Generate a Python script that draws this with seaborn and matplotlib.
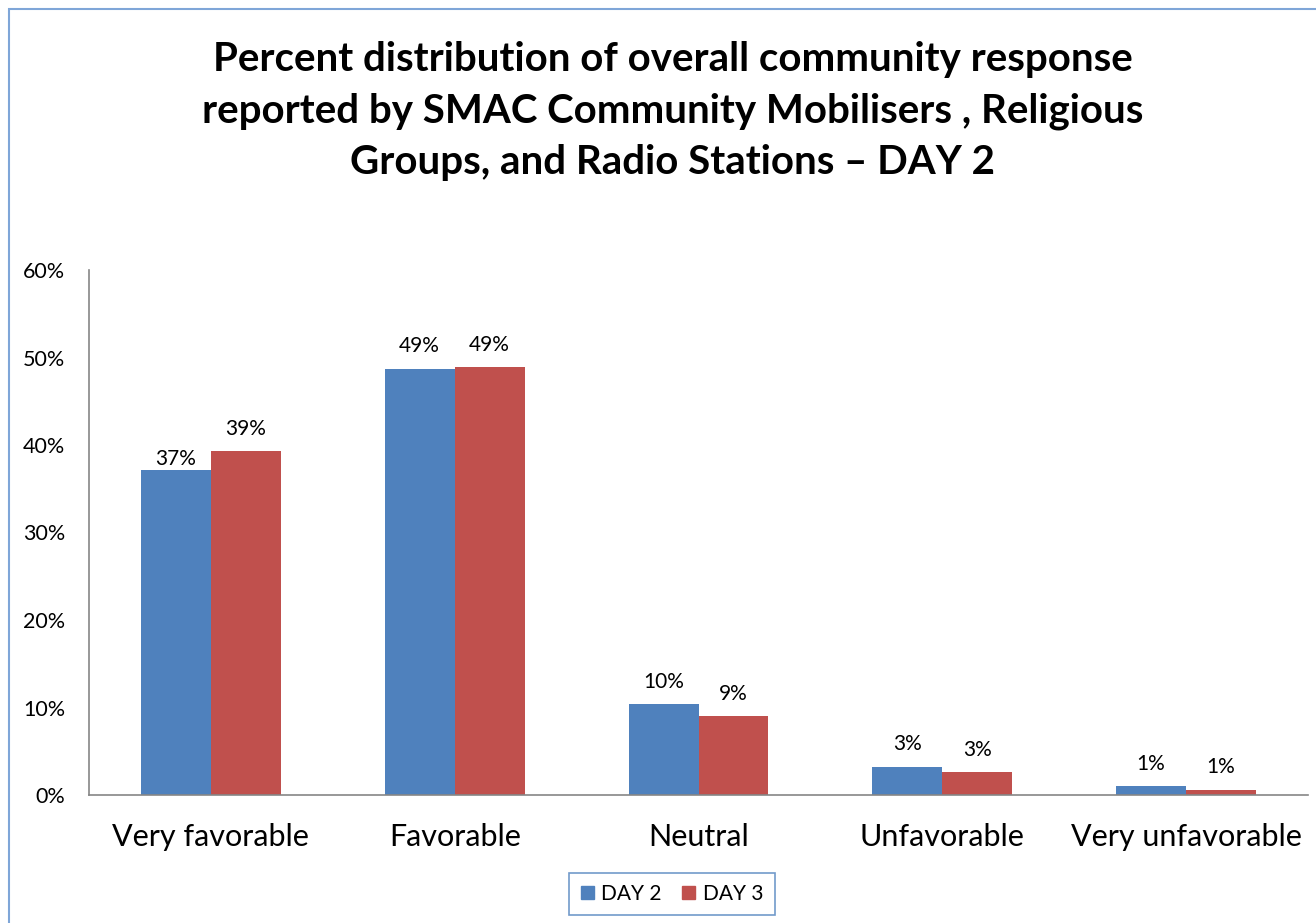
import matplotlib
matplotlib.use("Agg")
import matplotlib.pyplot as plt
import matplotlib.patches as mpatches
import seaborn as sns
import pandas as pd

categories = ["Very favorable", "Favorable", "Neutral", "Unfavorable", "Very unfavorable"]
series_names = ["DAY 2", "DAY 3"]
day2 = [37.1, 48.7, 10.4, 3.2, 1.0]
day3 = [39.3, 48.9, 9.0, 2.6, 0.6]
day2_labels = ["37%", "49%", "10%", "3%", "1%"]
day3_labels = ["39%", "49%", "9%", "3%", "1%"]
y_ticks = [0, 10, 20, 30, 40, 50, 60]
y_tick_labels = ["0%", "10%", "20%", "30%", "40%", "50%", "60%"]
title = ("Percent distribution of overall community response\n"
         "reported by SMAC Community Mobilisers , Religious\n"
         "Groups, and Radio Stations \u2013 DAY 2")

colors = ["#4F81BD", "#C0504D"]

df = pd.DataFrame({
    "category": categories * 2,
    "series": [series_names[0]] * len(categories) + [series_names[1]] * len(categories),
    "value": day2 + day3,
})

sns.set_theme(style="white")
plt.rcParams["font.family"] = ["Lato", "DejaVu Sans"]
plt.rcParams["text.color"] = "black"
plt.rcParams["xtick.color"] = "black"
plt.rcParams["ytick.color"] = "black"

fig = plt.figure(figsize=(13.16, 9.23), dpi=100)
ax = fig.add_axes([89 / 1316, 1 - 795 / 923, (1308 - 89) / 1316, (795 - 270) / 923])

sns.barplot(data=df, x="category", y="value", hue="series", order=categories,
            hue_order=series_names, palette=colors, width=0.574, gap=0,
            saturation=1, ax=ax, legend=False, linewidth=0)

ax.set_ylim(0, 60)
ax.set_xlim(-0.5, len(categories) - 0.5)
ax.set_yticks(y_ticks)
ax.set_yticklabels(y_tick_labels, fontsize=15.5)
ax.set_xlabel("")
ax.set_ylabel("")
ax.tick_params(axis="x", labelsize=22, labelcolor="black", length=0, pad=20)
ax.tick_params(axis="y", labelcolor="black", length=0, pad=17)

for s in ["top", "right"]:
    ax.spines[s].set_visible(False)
for s in ["left", "bottom"]:
    ax.spines[s].set_color("#868686")
    ax.spines[s].set_linewidth(1.2)

label_sets = [day2_labels, day3_labels]
all_anns = []
for container, labs in zip(ax.containers, label_sets):
    anns = ax.bar_label(container, labels=labs, padding=9, fontsize=15, color="black")
    all_anns.append(anns)
# Excel nudged the first DAY 2 label down next to the taller DAY 3 bar
all_anns[0][0].xyann = (0, 1)

fig.text(673 / 1316, 1 - 111 / 923, title, ha="center", va="center",
         fontsize=29, fontweight="bold", linespacing=1.47, color="black")

handles = [mpatches.Patch(color=c, label=n) for c, n in zip(colors, series_names)]
leg = fig.legend(handles=handles, loc="center", bbox_to_anchor=(672 / 1316, 1 - 894 / 923),
                 ncol=2, frameon=True, fontsize=15, handlelength=0.62, handleheight=0.62,
                 handletextpad=0.35, columnspacing=1.0, fancybox=False,
                 borderpad=0.55, borderaxespad=0)
leg.get_frame().set_edgecolor("#4F81BD")
leg.get_frame().set_linewidth(1.2)

border = mpatches.Rectangle((9 / 1316, -0.01), 1.02, 1 - 9 / 923 + 0.01,
                            transform=fig.transFigure, fill=False,
                            edgecolor="#7FA6D8", linewidth=1.5)
fig.patches.append(border)

fig.savefig("out.png", dpi=100)
